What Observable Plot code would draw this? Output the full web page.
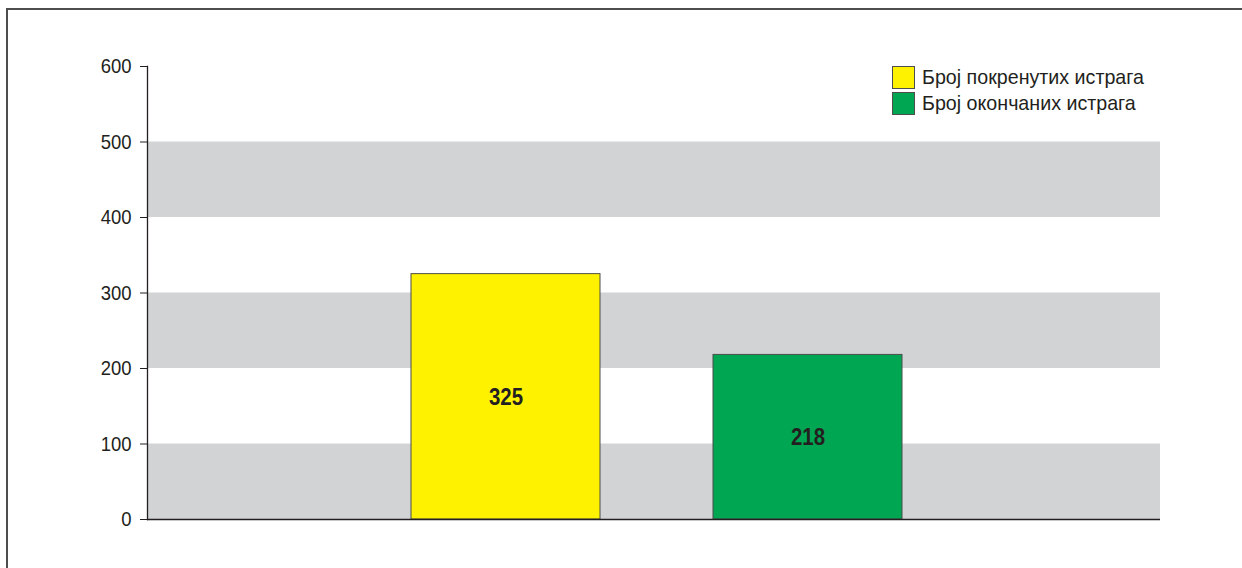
<!DOCTYPE html>
<html>
<head>
<meta charset="utf-8">
<script src="https://cdn.jsdelivr.net/npm/d3@7"></script>
<script src="https://cdn.jsdelivr.net/npm/@observablehq/plot@0.6"></script>
<style>
  html, body { margin: 0; padding: 0; background: #fff; }
  #wrap { position: relative; width: 1242px; height: 568px; overflow: hidden; font-family: "Liberation Sans", Arial, sans-serif; }
  #border { position: absolute; left: 6px; top: 8px; right: -10px; bottom: -10px; border-top: 2px solid #4d4d4d; border-left: 2px solid #4d4d4d; }
  #legend { position: absolute; left: 892px; top: 64px; font-size: 21px; color: #231f20; }
  .item { display: flex; align-items: center; height: 26px; white-space: nowrap; }
  .sw { width: 21px; height: 21px; border: 1px solid #4d4d4d; margin-right: 7px; flex: none; }
  .lt { display: inline-block; transform: scaleX(0.936); transform-origin: left center; }
  #chart { position: absolute; left: 0; top: 0; }
</style>
</head>
<body>
<div id="wrap">
  <div id="border"></div>
  <div id="chart"></div>
  <div id="legend"></div>
</div>
<script>
const categories = ["Број покренутих истрага", "Број окончаних истрага"];
const values = [325, 218];
const colors = ["#fff200", "#00a651"];
const bandLows = [0, 200, 400];
const bandHighs = [100, 300, 500];
const yTicks = [0, 100, 200, 300, 400, 500, 600];

const bars = categories.map((c, i) => ({category: c, value: values[i], color: colors[i]}));
const bands = bandLows.map((lo, i) => ({lo, hi: bandHighs[i]}));

const chart = Plot.plot({
  width: 1242,
  height: 568,
  marginLeft: 147,
  marginRight: 82,
  marginTop: 66,
  marginBottom: 49,
  style: {fontFamily: '"Liberation Sans", Arial, sans-serif', background: "transparent"},
  x: {domain: categories, range: [354.5, 958.5], paddingInner: 0.374, paddingOuter: 0.187, axis: null},
  y: {domain: [0, 600]},
  marks: [
    Plot.rect(bands, {y1: "lo", y2: "hi", fill: "#d1d3d4"}),
    Plot.barY(bars, {x: "category", y: "value", fill: "color", stroke: "#4d4d4d", strokeWidth: 1}),
    Plot.text(bars, {x: "category", y: d => d.value / 2, text: d => String(d.value), fontSize: 24, fontWeight: "bold", fill: "#231f20"}),
    Plot.frame({anchor: "left", stroke: "#231f20", strokeWidth: 1.3}),
    Plot.ruleY([0], {stroke: "#231f20", strokeWidth: 1.5}),
    Plot.axisY({ticks: yTicks, tickSize: 7, tickPadding: 9, fontSize: 21, stroke: "#231f20", fill: "#231f20", label: null})
  ]
});
document.getElementById("chart").appendChild(chart);

// condense text to mimic a narrow Helvetica
function condense(selector, k) {
  chart.querySelectorAll(selector).forEach(t => {
    const w = t.getComputedTextLength();
    t.setAttribute("textLength", (w * k).toFixed(2));
    t.setAttribute("lengthAdjust", "spacingAndGlyphs");
  });
}
condense('g[aria-label="y-axis tick label"] text', 0.88);
condense('g[aria-label="text"] text', 0.85);

const legend = document.getElementById("legend");
categories.forEach((c, i) => {
  const item = document.createElement("div");
  item.className = "item";
  const sw = document.createElement("div");
  sw.className = "sw";
  sw.style.background = colors[i];
  const t = document.createElement("span");
  t.className = "lt";
  t.textContent = c;
  item.appendChild(sw);
  item.appendChild(t);
  legend.appendChild(item);
});
</script>
</body>
</html>
